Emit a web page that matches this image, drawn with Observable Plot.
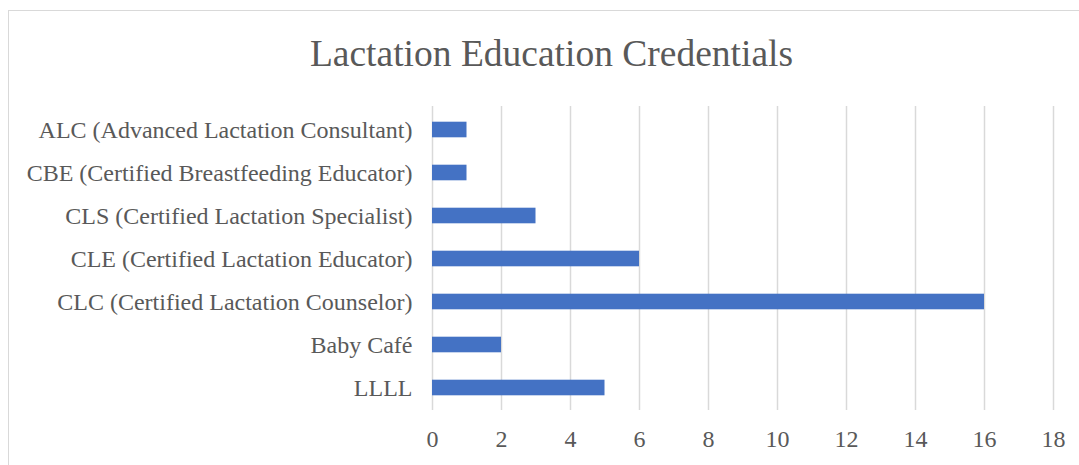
<!DOCTYPE html>
<html>
<head>
<meta charset="utf-8">
<script src="https://cdn.jsdelivr.net/npm/d3@7"></script>
<script src="https://cdn.jsdelivr.net/npm/@observablehq/plot@0.6"></script>
<style>
  html, body { margin: 0; padding: 0; background: #fff; }
  #wrap { position: relative; width: 1079px; height: 465px; overflow: hidden; }
  #frame { position: absolute; left: 8px; top: 10px; width: 1100px; height: 500px; border: 1.5px solid #d9d9d9; box-sizing: border-box; }
  #title { position: absolute; left: 0; top: 30px; width: 1103px; text-align: center; white-space: nowrap;
           font-family: "Liberation Serif", "Times New Roman", serif; font-size: 37.5px; color: #595959; line-height: 48px; }
  #chart { position: absolute; left: 0; top: 0; }
</style>
</head>
<body>
<div id="wrap">
  <div id="frame"></div>
  <div id="title">Lactation Education Credentials</div>
  <div id="chart"></div>
</div>
<script>
const categories = [
  "ALC (Advanced Lactation Consultant)",
  "CBE (Certified Breastfeeding Educator)",
  "CLS (Certified Lactation Specialist)",
  "CLE (Certified Lactation Educator)",
  "CLC (Certified Lactation Counselor)",
  "Baby Café",
  "LLLL"
];
const values = [1, 1, 3, 6, 16, 2, 5];
const xTicks = [0, 2, 4, 6, 8, 10, 12, 14, 16, 18];

const data = categories.map((c, i) => ({category: c, value: values[i]}));

const chart = Plot.plot({
  width: 1079,
  height: 465,
  marginTop: 106,
  marginBottom: 55,
  marginLeft: 432,
  marginRight: 26,
  style: {fontFamily: "'Liberation Serif', 'Times New Roman', serif", fontSize: "24px", color: "#595959", background: "transparent"},
  x: {domain: [0, 18], ticks: xTicks},
  y: {domain: categories, padding: 0},
  marks: [
    Plot.gridX(xTicks, {stroke: "#d9d9d9", strokeOpacity: 1, strokeWidth: 1.5}),
    Plot.barX(data, {x: "value", y: "category", fill: "#4472C4", insetTop: 13.7, insetBottom: 13.7}),
    Plot.axisX({ticks: xTicks, tickSize: 0, tickPadding: 19, label: null, fill: "#595959", fontSize: 24}),
    Plot.axisY({tickSize: 0, tickPadding: 20, label: null, fill: "#595959", fontSize: 24})
  ]
});
document.getElementById("chart").appendChild(chart);
</script>
</body>
</html>
